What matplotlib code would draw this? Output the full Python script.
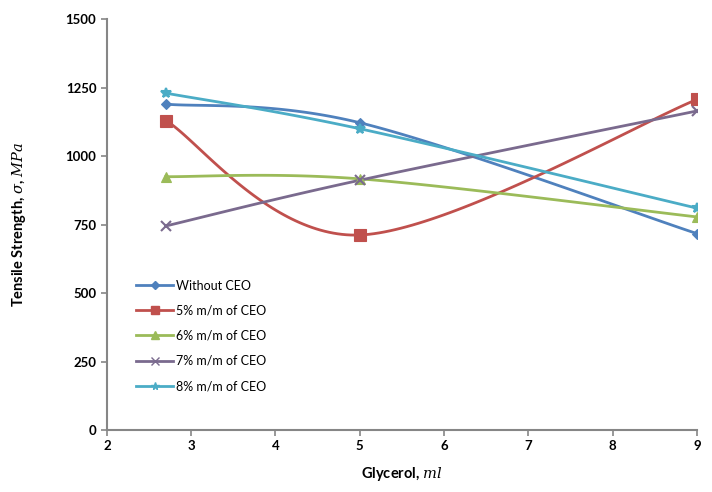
import numpy as np
import matplotlib
matplotlib.use("Agg")
import matplotlib.pyplot as plt

plt.rcParams['font.family'] = ['Lato', 'DejaVu Sans']
plt.rcParams['mathtext.fontset'] = 'dejavuserif'

glycerol = [2.7, 5.0, 9.0]
series_names = ["Without CEO", "5% m/m of CEO", "6% m/m of CEO", "7% m/m of CEO", "8% m/m of CEO"]
without_ceo = [1190, 1122, 717]
ceo_5 = [1130, 712, 1207]
ceo_6 = [925, 917, 778]
ceo_7 = [745, 912, 1165]
ceo_8 = [1230, 1100, 810]

colors = ["#4F81BD", "#C0504D", "#9BBB59", "#7A6A8E", "#4BACC6"]
markers = ["D", "s", "^", "x", "*"]
msizes = [5, 8, 7, 7, 7]


def excel_smooth(xs, ys, n=60):
    pts = np.column_stack([xs, ys]).astype(float)
    ext = np.vstack([pts[0], pts, pts[-1]])
    out = []
    for i in range(len(pts) - 1):
        p0, p1, p2, p3 = ext[i], ext[i + 1], ext[i + 2], ext[i + 3]
        c1 = p1 + (p2 - p0) / 6.0
        c2 = p2 - (p3 - p1) / 6.0
        t = np.linspace(0, 1, n)[:, None]
        seg = ((1 - t) ** 3) * p1 + 3 * ((1 - t) ** 2) * t * c1 + 3 * (1 - t) * t ** 2 * c2 + t ** 3 * p2
        out.append(seg if i == 0 else seg[1:])
    arr = np.vstack(out)
    return arr[:, 0], arr[:, 1]


fig = plt.figure(figsize=(7.12, 4.92), dpi=100)
ax = fig.add_axes([0.150, 0.126, 0.829, 0.835])

all_series = [without_ceo, ceo_5, ceo_6, ceo_7, ceo_8]
for name, ys, c, m, ms in zip(series_names, all_series, colors, markers, msizes):
    sx, sy = excel_smooth(glycerol, ys)
    ax.plot(sx, sy, color=c, lw=2, zorder=2)
    ax.plot(glycerol, ys, linestyle='none', marker=m, color=c, markersize=ms,
            markeredgewidth=1.5 if m in ('x', '*') else 0.8, zorder=3)
    ax.plot([], [], color=c, lw=2, marker=m, markersize=ms * 0.8, label=name)

ax.set_xlim(2, 9)
ax.set_ylim(0, 1500)
ax.set_xticks(range(2, 10))
ax.set_yticks(range(0, 1501, 250))
for s in ['top', 'right']:
    ax.spines[s].set_visible(False)
for s in ['left', 'bottom']:
    ax.spines[s].set_color('#868686')
    ax.spines[s].set_linewidth(1.5)
ax.tick_params(axis='both', colors='#868686', width=1.2, length=4, labelsize=9.5)
for lab in ax.get_xticklabels() + ax.get_yticklabels():
    lab.set_color('black')
    lab.set_fontweight('bold')

ax.set_xlabel(r"Glycerol, $ml$", fontsize=10.5, fontweight='bold', labelpad=9)
ax.set_ylabel(r"Tensile Strength, $\sigma$, $MPa$", fontsize=10.5, fontweight='bold', labelpad=27)

leg = ax.legend(loc='lower left', bbox_to_anchor=(0.03, 0.065), frameon=False,
                fontsize=9, handlelength=3.0, labelspacing=1.05, handletextpad=0.2)

fig.savefig("out.png", dpi=100)
